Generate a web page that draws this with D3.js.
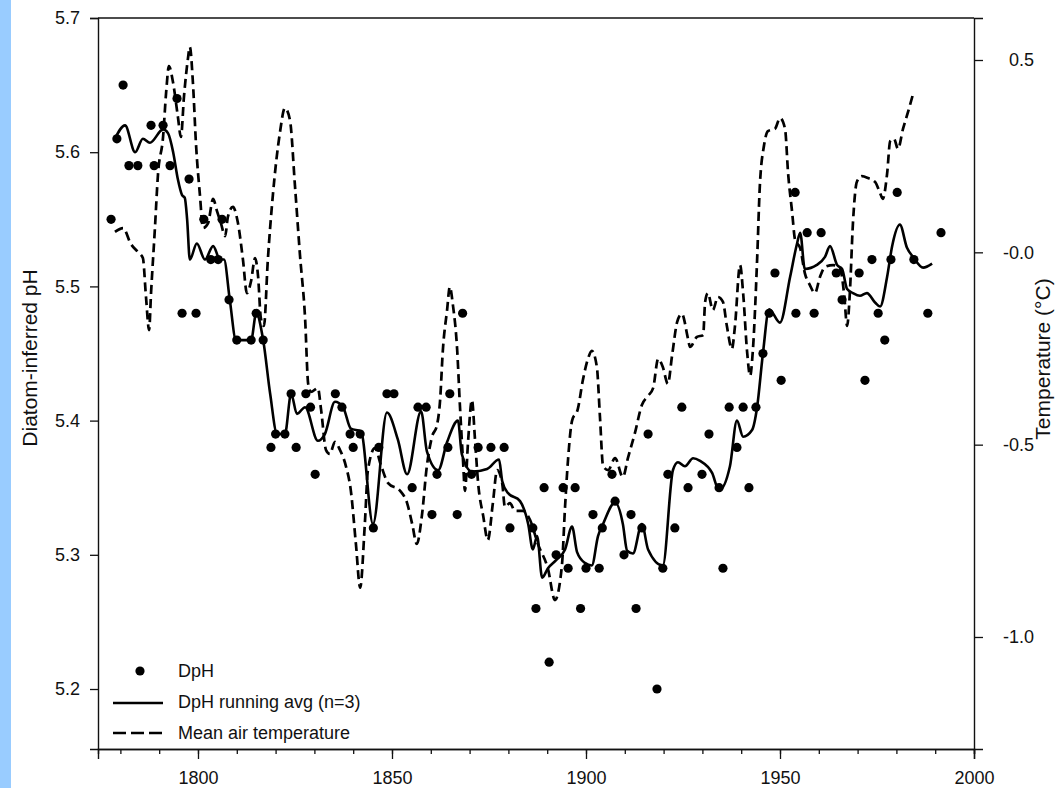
<!DOCTYPE html>
<html>
<head>
<meta charset="utf-8">
<script src="https://d3js.org/d3.v7.min.js"></script>
<style>
  body { margin: 0; background: #fff; }
  #strip { position: absolute; left: 0; top: 0; width: 11px; height: 788px; background: #99ccff; }
  svg { position: absolute; left: 0; top: 0; }
  text { font-family: "Liberation Sans", Arial, Helvetica, sans-serif; fill: #111; }
</style>
</head>
<body>
<div id="strip"></div>
<div id="svgArea"></div>
<script>
// diatom-inferred pH samples
const dphYears = [1777.6, 1779.1, 1780.7, 1782.2, 1784.5, 1787.9, 1788.7, 1791.0, 1792.8, 1794.6, 1795.9, 1797.7, 1799.5,
  1801.5, 1803.3, 1805.2, 1806.2, 1808.0, 1810.0, 1813.7, 1815.0, 1816.8, 1818.8, 1820.0, 1822.4, 1824.0, 1825.3, 1827.8,
  1829.0, 1830.2, 1835.4, 1837.1, 1839.2, 1840.0, 1841.8, 1845.2, 1846.6, 1848.7, 1850.5, 1855.2, 1856.7, 1858.8, 1860.3,
  1861.6, 1864.4, 1864.9, 1866.8, 1868.2, 1870.5, 1872.2, 1875.5, 1878.9, 1880.4, 1886.3, 1887.1, 1889.2, 1890.5, 1892.3,
  1894.1, 1895.4, 1897.2, 1898.6, 1900.0, 1901.8, 1903.4, 1904.2, 1906.7, 1907.5, 1909.8, 1911.6, 1912.9, 1914.4, 1916.0,
  1918.3, 1919.8, 1921.1, 1922.9, 1924.7, 1926.3, 1929.9, 1931.7, 1934.3, 1935.3, 1936.9, 1938.9, 1940.5, 1942.0, 1943.8,
  1945.6, 1947.2, 1948.7, 1950.3, 1953.9, 1954.1, 1957.0, 1958.8, 1960.6, 1964.5, 1966.0, 1970.4, 1971.9, 1973.7, 1975.3,
  1977.0, 1978.6, 1980.2, 1984.5, 1988.1, 1991.5];
const dphValues = [5.55, 5.61, 5.65, 5.59, 5.59, 5.62, 5.59, 5.62, 5.59, 5.64, 5.48, 5.58, 5.48,
  5.55, 5.52, 5.52, 5.55, 5.49, 5.46, 5.46, 5.48, 5.46, 5.38, 5.39, 5.39, 5.42, 5.38, 5.42,
  5.41, 5.36, 5.42, 5.41, 5.39, 5.38, 5.39, 5.32, 5.38, 5.42, 5.42, 5.35, 5.41, 5.41, 5.33,
  5.36, 5.38, 5.42, 5.33, 5.48, 5.36, 5.38, 5.38, 5.38, 5.32, 5.32, 5.26, 5.35, 5.22, 5.30,
  5.35, 5.29, 5.35, 5.26, 5.29, 5.33, 5.29, 5.32, 5.36, 5.34, 5.30, 5.33, 5.26, 5.32, 5.39,
  5.20, 5.29, 5.36, 5.32, 5.41, 5.35, 5.36, 5.39, 5.35, 5.29, 5.41, 5.38, 5.41, 5.35, 5.41,
  5.45, 5.48, 5.51, 5.43, 5.57, 5.48, 5.54, 5.48, 5.54, 5.51, 5.49, 5.51, 5.43, 5.52, 5.48,
  5.46, 5.52, 5.57, 5.52, 5.48, 5.54];

// running average (n=3)
const avgYears = [1778.6, 1781.2, 1783.8, 1785.8, 1787.6, 1791.0, 1792.3, 1793.6, 1794.8, 1795.9, 1796.6, 1797.2, 1797.9,
  1799.7, 1801.8, 1803.9, 1805.7, 1806.7, 1808.2, 1809.8, 1813.7, 1815.0, 1816.8, 1818.6, 1820.4, 1822.4, 1824.0, 1825.5,
  1827.6, 1830.9, 1832.7, 1835.3, 1837.4, 1839.4, 1842.0, 1845.1, 1848.7, 1851.5, 1853.9, 1857.5, 1859.0, 1861.9, 1864.2,
  1867.0, 1868.0, 1870.6, 1874.5, 1877.6, 1878.4, 1879.9, 1883.0, 1885.1, 1886.3, 1887.4, 1888.7, 1890.2, 1892.3, 1894.6,
  1896.4, 1897.7, 1899.7, 1901.5, 1903.1, 1904.4, 1907.5, 1909.5, 1910.6, 1912.1, 1914.4, 1916.0, 1919.8, 1922.4, 1923.7,
  1925.5, 1927.6, 1929.4, 1932.5, 1934.3, 1937.1, 1938.9, 1940.5, 1942.8, 1944.1, 1945.6, 1947.2, 1950.0, 1952.6, 1954.4,
  1955.2, 1956.4, 1959.5, 1961.6, 1962.9, 1964.7, 1966.0, 1967.3, 1968.8, 1970.6, 1972.4, 1974.5, 1975.8, 1977.6, 1978.9,
  1980.9, 1982.7, 1984.3, 1986.9, 1989.2];
const avgValues = [5.61, 5.62, 5.60, 5.61, 5.607, 5.617, 5.614, 5.60, 5.58, 5.568, 5.566, 5.55, 5.52,
  5.532, 5.52, 5.53, 5.52, 5.52, 5.49, 5.46, 5.46, 5.48, 5.46, 5.42, 5.39, 5.39, 5.42, 5.405,
  5.41, 5.385, 5.39, 5.414, 5.41, 5.394, 5.392, 5.323, 5.406, 5.386, 5.36, 5.407, 5.377, 5.363, 5.384,
  5.40, 5.375, 5.362, 5.364, 5.371, 5.355, 5.346, 5.34, 5.323, 5.304, 5.314, 5.283, 5.29, 5.296, 5.304,
  5.321, 5.302, 5.294, 5.292, 5.314, 5.323, 5.339, 5.323, 5.303, 5.301, 5.323, 5.304, 5.292, 5.363, 5.369,
  5.366, 5.372, 5.37, 5.361, 5.348, 5.366, 5.40, 5.388, 5.393, 5.41, 5.45, 5.483, 5.473, 5.507, 5.532,
  5.54, 5.513, 5.516, 5.522, 5.53, 5.516, 5.513, 5.498, 5.495, 5.493, 5.495, 5.488, 5.485, 5.507, 5.53,
  5.546, 5.529, 5.522, 5.514, 5.517];

// mean air temperature (deg C)
const tempYears = [1778.6, 1780.7, 1782.7, 1784.5, 1785.8, 1786.6, 1787.4, 1787.9, 1788.9, 1789.7, 1791.0, 1791.8, 1792.5,
  1793.6, 1794.8, 1795.6, 1796.4, 1797.4, 1797.9, 1798.7, 1799.5, 1800.5, 1801.3, 1802.6, 1803.9, 1804.9, 1805.9, 1807.0,
  1807.7, 1809.0, 1810.3, 1811.6, 1812.6, 1813.7, 1814.7, 1815.5, 1816.2, 1817.0, 1818.0, 1819.3, 1821.1, 1822.4, 1823.7,
  1825.0, 1826.3, 1827.6, 1828.4, 1829.1, 1830.9, 1831.7, 1833.0, 1834.0, 1835.3, 1836.6, 1838.1, 1839.4, 1840.7, 1841.8,
  1843.0, 1843.8, 1845.6, 1847.2, 1849.0, 1852.1, 1853.9, 1855.2, 1856.4, 1857.7, 1859.0, 1860.3, 1861.6, 1862.4, 1863.1,
  1864.2, 1864.9, 1865.7, 1866.8, 1867.5, 1868.3, 1868.8, 1869.6, 1870.6, 1871.4, 1872.2, 1873.5, 1874.7, 1876.0, 1877.1,
  1878.4, 1879.1, 1880.4, 1881.7, 1883.8, 1885.6, 1887.6, 1890.2, 1892.0, 1893.8, 1894.6, 1895.4, 1896.4, 1897.9, 1899.2,
  1900.5, 1901.5, 1902.8, 1903.6, 1904.4, 1905.7, 1907.5, 1909.5, 1910.8, 1912.6, 1914.4, 1916.0, 1917.3, 1918.6, 1919.8,
  1921.1, 1922.2, 1923.5, 1924.7, 1926.3, 1926.8, 1928.6, 1930.2, 1930.7, 1931.4, 1932.7, 1934.0, 1935.3, 1936.3, 1937.6,
  1938.4, 1939.7, 1940.5, 1941.5, 1942.3, 1943.0, 1944.1, 1944.8, 1945.9, 1946.9, 1948.7, 1950.0, 1951.3, 1952.1, 1953.1,
  1953.9, 1955.2, 1956.4, 1957.7, 1959.0, 1960.3, 1961.6, 1963.7, 1965.5, 1966.5, 1967.3, 1968.0, 1968.8, 1969.8, 1971.1,
  1972.7, 1974.5, 1975.8, 1976.5, 1977.6, 1978.4, 1979.4, 1980.4, 1981.7, 1983.0, 1984.3];
const tempValues = [0.053, 0.063, 0.022, 0.001, -0.015, -0.116, -0.202, -0.106, 0.063, 0.204, 0.300, 0.417, 0.484,
  0.440, 0.354, 0.300, 0.406, 0.503, 0.534, 0.440, 0.279, 0.149, 0.063, 0.076, 0.139, 0.107, 0.076, 0.042,
  0.092, 0.118, 0.076, -0.020, -0.106, -0.074, -0.015, -0.064, -0.171, -0.191, -0.020, 0.149, 0.310, 0.375, 0.344,
  0.172, -0.009, -0.171, -0.342, -0.363, -0.353, -0.407, -0.514, -0.524, -0.493, -0.514, -0.555, -0.620, -0.758, -0.872,
  -0.706, -0.566, -0.509, -0.555, -0.600, -0.620, -0.652, -0.706, -0.758, -0.685, -0.555, -0.480, -0.449, -0.384, -0.256,
  -0.150, -0.090, -0.137, -0.254, -0.397, -0.540, -0.620, -0.493, -0.384, -0.488, -0.600, -0.685, -0.748, -0.652, -0.566,
  -0.600, -0.662, -0.652, -0.672, -0.672, -0.696, -0.758, -0.823, -0.904, -0.813, -0.662, -0.535, -0.438, -0.407, -0.332,
  -0.277, -0.256, -0.298, -0.428, -0.555, -0.566, -0.535, -0.584, -0.535, -0.470, -0.397, -0.373, -0.353, -0.277, -0.298,
  -0.342, -0.267, -0.181, -0.160, -0.225, -0.246, -0.220, -0.215, -0.129, -0.106, -0.150, -0.116, -0.129, -0.191, -0.251,
  -0.191, -0.033, -0.106, -0.256, -0.321, -0.256, -0.020, 0.172, 0.279, 0.315, 0.321, 0.349, 0.321, 0.204, 0.107,
  0.032, 0.011, -0.054, -0.085, -0.106, -0.064, -0.038, -0.033, -0.043, -0.106, -0.191, -0.106, 0.076, 0.183, 0.198,
  0.193, 0.183, 0.154, 0.139, 0.204, 0.289, 0.295, 0.269, 0.321, 0.365, 0.412];

const phTicks = [5.2, 5.3, 5.4, 5.5, 5.6, 5.7];
const tempTicks = [0.5, 0.0, -0.5, -1.0];
const tempTickLabels = ["0.5", "-0.0", "-0.5", "-1.0"];
const yearTicks = [1800, 1850, 1900, 1950, 2000];
const yearMinor = d3.range(1780, 2001, 10);

const W = 1058, H = 788;
const m = { left: 98, right: 84, top: 18, bottom: 39 };

const svg = d3.select("#svgArea").append("svg").attr("width", W).attr("height", H);

const x = d3.scaleLinear().domain([1774.23, 2000]).range([m.left, W - m.right]);
const yPH = d3.scaleLinear().domain([5.1553, 5.7]).range([H - m.bottom, m.top]);
const yT = d3.scaleLinear().domain([-1.2912, 0.6092]).range([H - m.bottom, m.top]);

// axes
const gx = svg.append("g").attr("transform", "translate(0," + (H - m.bottom) + ")");
gx.call(d3.axisBottom(x).tickValues(yearMinor).tickSize(5).tickFormat(""));
gx.call(g => g.append("g").call(d3.axisBottom(x).tickValues(yearTicks).tickSize(10).tickPadding(12).tickFormat(d3.format("d"))));

const gl = svg.append("g").attr("transform", "translate(" + m.left + ",0)");
gl.call(d3.axisLeft(yPH).tickValues(phTicks).tickSize(8).tickPadding(10).tickFormat(d3.format(".1f")));

const gr = svg.append("g").attr("transform", "translate(" + (W - m.right) + ",0)");
gr.call(d3.axisRight(yT).tickValues(tempTicks).tickSize(9).tickPadding(18).tickFormat((d, i) => tempTickLabels[i]));
gr.selectAll(".tick text").attr("text-anchor", "end").attr("dx", "33");

svg.selectAll(".domain").attr("stroke", "#111").attr("stroke-width", 1.4);
svg.selectAll(".tick line").attr("stroke", "#111").attr("stroke-width", 1.3);
svg.selectAll(".tick text").style("font-size", "18px").attr("fill", "#111");

// top frame line
svg.append("line")
  .attr("x1", m.left).attr("x2", W - m.right)
  .attr("y1", m.top).attr("y2", m.top)
  .attr("stroke", "#111").attr("stroke-width", 1.4);

// axis titles
svg.append("text")
  .attr("transform", "translate(37,358) rotate(-90)")
  .attr("text-anchor", "middle")
  .style("font-size", "21px")
  .text("Diatom-inferred pH");
svg.append("text")
  .attr("transform", "translate(1050,359) rotate(-90)")
  .attr("text-anchor", "middle")
  .style("font-size", "21px")
  .text("Temperature (°C)");

// temperature, dashed
const tempData = tempYears.map((d, i) => ({ year: d, v: tempValues[i] }));
const tempLine = d3.line().x(d => x(d.year)).y(d => yT(d.v)).curve(d3.curveMonotoneX);
svg.append("path")
  .attr("d", tempLine(tempData))
  .attr("fill", "none")
  .attr("stroke", "#000")
  .attr("stroke-width", 2.7)
  .attr("stroke-dasharray", "9,5");

// running average, solid
const avgData = avgYears.map((d, i) => ({ year: d, v: avgValues[i] }));
const avgLine = d3.line().x(d => x(d.year)).y(d => yPH(d.v)).curve(d3.curveMonotoneX);
svg.append("path")
  .attr("d", avgLine(avgData))
  .attr("fill", "none")
  .attr("stroke", "#000")
  .attr("stroke-width", 2.6)
  .attr("stroke-linejoin", "round");

// sample points
const dphData = dphYears.map((d, i) => ({ year: d, v: dphValues[i] }));
svg.append("g").selectAll("circle")
  .data(dphData)
  .enter()
  .append("circle")
  .attr("r", 4.6)
  .attr("cx", d => x(d.year))
  .attr("cy", d => yPH(d.v))
  .style("fill", "#000");

// legend
const lg = svg.append("g");
lg.append("circle").attr("cx", 140).attr("cy", 671).attr("r", 4.6).style("fill", "#000");
lg.append("line").attr("x1", 113).attr("x2", 163).attr("y1", 703).attr("y2", 703)
  .attr("stroke", "#000").attr("stroke-width", 2.6);
lg.append("line").attr("x1", 113).attr("x2", 163).attr("y1", 733).attr("y2", 733)
  .attr("stroke", "#000").attr("stroke-width", 2.6).attr("stroke-dasharray", "13,5");
const legendLabels = ["DpH", "DpH running avg (n=3)", "Mean air temperature"];
lg.selectAll("text.lab")
  .data(legendLabels)
  .enter()
  .append("text")
  .attr("class", "lab")
  .attr("x", 178)
  .attr("y", (d, i) => 671 + i * 31)
  .attr("dy", "0.35em")
  .style("font-size", "18px")
  .text(d => d);
</script>
</body>
</html>
